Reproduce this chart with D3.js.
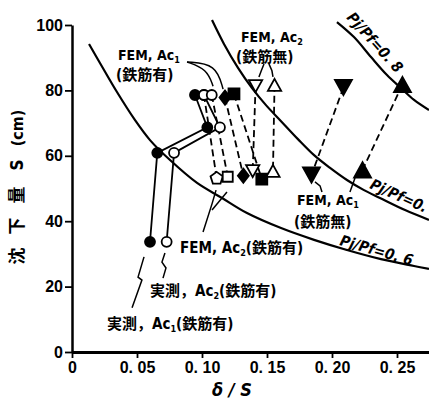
<!DOCTYPE html>
<html>
<head>
<meta charset="utf-8">
<script src="https://cdn.jsdelivr.net/npm/d3@7"></script>
<style>
  html, body { margin: 0; padding: 0; background: #fff; }
  svg { display: block; background: #fff; }
  text { font-weight: bold; fill: #000; }
  .lat { font-family: "Liberation Sans Narrow", "DejaVu Sans Condensed", "Noto Sans CJK JP", sans-serif; }
  .tick text { font-family: "Liberation Sans", "Noto Sans CJK JP", sans-serif; font-weight: bold; }
</style>
</head>
<body>
<svg id="chart" width="429" height="401"></svg>
<script>
// ---------- axis ticks ----------
const xTicks = [0, 0.05, 0.10, 0.15, 0.20, 0.25];
const xTickLabels = ["0", "0. 05", "0. 10", "0. 15", "0. 20", "0. 25"];
const yTicks = [0, 20, 40, 60, 80, 100];
const yTickLabels = ["0", "20", "40", "60", "80", "100"];

// ---------- measured settlement paths [δ/S, S(cm)] ----------
const obsAc1 = [[0.060, 33.7], [0.0656, 60.9], [0.1041, 68.7], [0.0946, 78.6]];   // 実測 Ac1 (鉄筋有)
const obsAc2 = [[0.0728, 33.7], [0.0785, 60.9], [0.1138, 68.7], [0.1015, 78.6]];  // 実測 Ac2 (鉄筋有)

// ---------- FEM results with rebar: upper row (Ac1) and lower row (Ac2) ----------
const femRebarUpper = [[0.1015, 78.6], [0.1075, 78.6], [0.1177, 77.8], [0.1246, 78.9]];
const femRebarLower = [[0.1113, 53.1], [0.1198, 53.6], [0.1318, 53.9], [0.1460, 52.9]];

// ---------- FEM results without rebar ----------
const femAc2NoRebarUpper = [[0.1412, 81.3], [0.1558, 81.7]];
const femAc2NoRebarLower = [[0.1390, 55.3], [0.1546, 55.4]];
const femAc1NoRebarUpper = [[0.2088, 80.9], [0.2542, 81.8]];
const femAc1NoRebarLower = [[0.1842, 54.1], [0.2235, 55.7]];

// ---------- Pj/Pf contour lines ----------
const curve06 = [[0.0131, 94.2], [0.0215, 88.4], [0.0346, 79.5], [0.0485, 70.9], [0.0600, 64.8],
                 [0.0754, 58.7], [0.0962, 51.7], [0.1154, 47.1], [0.1346, 42.5], [0.1608, 37.9],
                 [0.1862, 34.3], [0.2115, 31.2], [0.2377, 28.4], [0.2631, 26.3], [0.2746, 25.4]];
const curve07 = [[0.1077, 101.5], [0.1169, 94.2], [0.1277, 86.9], [0.1385, 80.7], [0.1492, 75.5],
                 [0.1608, 70.6], [0.1738, 65.1], [0.1862, 60.2], [0.1985, 56.3], [0.2115, 52.6],
                 [0.2246, 49.5], [0.2369, 47.1], [0.2562, 43.4], [0.2746, 40.4]];
const curve08 = [[0.2038, 100.9], [0.2169, 96.3], [0.2300, 90.2], [0.2423, 84.7], [0.2531, 80.7],
                 [0.2631, 77.1], [0.2746, 74.0]];

// ---------- marker styles ----------
const upperSymbols = ["circleOpen", "circleOpen", "diamondFilled", "squareFilled"];
const lowerSymbols = ["pentagonOpen", "squareOpen", "diamondFilled", "squareFilled"];
const triSymbols = ["triDown", "triUp"];

// ---------- leader lines in data units ----------
const leaders = [
  [[0.1008, 36.7], [0.1077, 45.3], [0.1108, 49.5]],
  [[0.1077, 43.4], [0.1192, 48.9]],
  [[0.0715, 30.3], [0.0692, 27.5], [0.0723, 25.7], [0.0700, 22.6]],
  [[0.0554, 29.1], [0.0508, 22.9], [0.0538, 22.0], [0.0462, 13.5]],
  [[0.1477, 88.1], [0.1456, 86.0], [0.1438, 84.1]],
  [[0.1515, 88.1], [0.1538, 86.0], [0.1546, 84.1]],
  [[0.1923, 48.9], [0.1908, 50.8], [0.1869, 52.0]],
  [[0.2177, 53.2], [0.2138, 48.9]]
];
const swoosh = [
  [[0.0885, 88.7], [0.1108, 88.1], [0.1162, 80.4]],
  [[0.0885, 88.7], [0.1038, 86.5], [0.1085, 81.3]]
];

const svg = d3.select("#chart");
const x = d3.scaleLinear().domain([0, 0.275]).range([72, 429.5]);
const y = d3.scaleLinear().domain([0, 100]).range([352, 25]);

// ---------- custom symbol shapes (size = half-extent squared) ----------
const shapes = {
  circle: { draw(c, s) { const r = Math.sqrt(s); c.moveTo(r, 0); c.arc(0, 0, r, 0, 2 * Math.PI); } },
  square: { draw(c, s) { const r = Math.sqrt(s); c.rect(-r, -r, 2 * r, 2 * r); } },
  diamond: { draw(c, s) { const r = Math.sqrt(s); c.moveTo(0, -r * 1.3); c.lineTo(r, 0); c.lineTo(0, r * 1.3); c.lineTo(-r, 0); c.closePath(); } },
  pentagon: { draw(c, s) { const r = Math.sqrt(s); for (let i = 0; i < 5; i++) { const a = -Math.PI / 2 + i * 2 * Math.PI / 5; const px = r * Math.cos(a), py = r * Math.sin(a); if (i === 0) c.moveTo(px, py); else c.lineTo(px, py); } c.closePath(); } },
  triUp: { draw(c, s) { const r = Math.sqrt(s); c.moveTo(0, -r * 0.9); c.lineTo(r, r * 0.9); c.lineTo(-r, r * 0.9); c.closePath(); } },
  triDown: { draw(c, s) { const r = Math.sqrt(s); c.moveTo(0, r * 0.9); c.lineTo(r, -r * 0.9); c.lineTo(-r, -r * 0.9); c.closePath(); } }
};
const styleOf = {
  circleOpen:   { shape: "circle",   size: 25,   fill: "#fff" },
  circleFilled: { shape: "circle",   size: 25,   fill: "#000" },
  squareOpen:   { shape: "square",   size: 25,   fill: "#fff" },
  squareFilled: { shape: "square",   size: 30,   fill: "#000" },
  diamondFilled:{ shape: "diamond",  size: 30,   fill: "#000" },
  pentagonOpen: { shape: "pentagon", size: 42,   fill: "#fff" },
  triUpOpen:    { shape: "triUp",    size: 44,   fill: "#fff" },
  triDownOpen:  { shape: "triDown",  size: 44,   fill: "#fff" },
  triUpFilled:  { shape: "triUp",    size: 72,   fill: "#000" },
  triDownFilled:{ shape: "triDown",  size: 72,   fill: "#000" }
};

function drawMarker(g, p, key) {
  const st = styleOf[key];
  g.append("path")
    .attr("d", d3.symbol().type(shapes[st.shape]).size(st.size)())
    .attr("transform", `translate(${x(p[0])},${y(p[1])})`)
    .attr("fill", st.fill)
    .attr("stroke", "#000")
    .attr("stroke-width", 1.8)
    .attr("stroke-linejoin", "miter");
}

const line = d3.line().x(d => x(d[0])).y(d => y(d[1]));
const smooth = d3.line().x(d => x(d[0])).y(d => y(d[1])).curve(d3.curveCatmullRom.alpha(0.5));
const bend = d3.line().x(d => x(d[0])).y(d => y(d[1])).curve(d3.curveBasis);

// ---------- contour lines ----------
const gCurves = svg.append("g").attr("fill", "none").attr("stroke", "#000").attr("stroke-width", 2.2);
[curve06, curve07, curve08].forEach(c => gCurves.append("path").attr("d", smooth(c)));

// ---------- axes ----------
const gx = svg.append("g").attr("transform", "translate(0,352)")
  .call(d3.axisBottom(x).tickValues(xTicks).tickFormat((d, i) => xTickLabels[i]).tickSize(6).tickSizeOuter(0).tickPadding(4));
const gy = svg.append("g").attr("transform", "translate(72,0)")
  .call(d3.axisLeft(y).tickValues(yTicks).tickFormat((d, i) => yTickLabels[i]).tickSize(7).tickSizeOuter(0).tickPadding(2));
gx.select(".domain").attr("stroke-width", 3);
gy.select(".domain").attr("stroke-width", 2.5);
[gx, gy].forEach(g => {
  g.selectAll(".tick line").attr("stroke-width", 1.8);
  g.selectAll(".tick text").style("font-size", "16px").attr("fill", "#000");
});

// ---------- connecting lines ----------
const gLines = svg.append("g").attr("fill", "none").attr("stroke", "#000").attr("stroke-width", 1.8);
gLines.append("path").attr("d", line(obsAc1));
gLines.append("path").attr("d", line(obsAc2));
const dashed = (a, b) => gLines.append("path").attr("d", line([a, b])).attr("stroke-dasharray", "7,4");
femRebarUpper.forEach((p, i) => dashed(p, femRebarLower[i]));
femAc2NoRebarUpper.forEach((p, i) => dashed(p, femAc2NoRebarLower[i]));
femAc1NoRebarUpper.forEach((p, i) => dashed(p, femAc1NoRebarLower[i]));

// ---------- leaders ----------
const gLead = svg.append("g").attr("fill", "none").attr("stroke", "#000").attr("stroke-width", 1.5);
leaders.forEach(l => gLead.append("path").attr("d", line(l)));
swoosh.forEach(l => gLead.append("path").attr("d", bend(l)));

// ---------- markers ----------
const gMarks = svg.append("g");
obsAc1.forEach(p => drawMarker(gMarks, p, "circleFilled"));
obsAc2.forEach(p => drawMarker(gMarks, p, "circleOpen"));
femRebarUpper.forEach((p, i) => drawMarker(gMarks, p, upperSymbols[i]));
femRebarLower.forEach((p, i) => drawMarker(gMarks, p, lowerSymbols[i]));
femAc2NoRebarUpper.forEach((p, i) => drawMarker(gMarks, p, triSymbols[i] + "Open"));
femAc2NoRebarLower.forEach((p, i) => drawMarker(gMarks, p, triSymbols[i] + "Open"));
femAc1NoRebarUpper.forEach((p, i) => drawMarker(gMarks, p, triSymbols[i] + "Filled"));
femAc1NoRebarLower.forEach((p, i) => drawMarker(gMarks, p, triSymbols[i] + "Filled"));

// ---------- text ----------
function addLabel(x0, y0, parts, size) {
  const t = svg.append("text").attr("class", "lat").attr("x", x0).attr("y", y0).style("font-size", size + "px");
  let low = false;
  parts.forEach(p => {
    const s = t.append("tspan").text(p.t);
    if (p.sub) { s.style("font-size", Math.round(size * 0.62) + "px").attr("dy", 3); low = true; }
    else if (low) { s.attr("dy", -3); low = false; }
  });
  return t;
}
addLabel(118, 60, [{ t: "FEM, Ac" }, { t: "1", sub: true }], 14);
addLabel(116, 80, [{ t: "(鉄筋有)" }], 15);
addLabel(241, 42, [{ t: "FEM, Ac" }, { t: "2", sub: true }], 14);
addLabel(236, 62, [{ t: "(鉄筋無)" }], 15);
addLabel(297, 205, [{ t: "FEM, Ac" }, { t: "1", sub: true }], 14);
addLabel(294, 227, [{ t: "(鉄筋無)" }], 15);
addLabel(180, 253, [{ t: "FEM, Ac" }, { t: "2", sub: true }, { t: "(鉄筋有)" }], 15);
addLabel(150, 296, [{ t: "実測，Ac" }, { t: "2", sub: true }, { t: "(鉄筋有)" }], 15);
addLabel(107, 329, [{ t: "実測，Ac" }, { t: "1", sub: true }, { t: "(鉄筋有)" }], 15);

// contour labels
function ratioLabel(x0, y0, angle, str) {
  svg.append("text").attr("class", "lat")
    .attr("transform", `translate(${x0},${y0}) rotate(${angle})`)
    .style("font-size", "15px").style("font-style", "italic")
    .text(str);
}
ratioLabel(346, 18, 48, "Pj/Pf=0. 8");
ratioLabel(369, 188, 24, "Pj/Pf=0. 7");
ratioLabel(339, 245, 16, "Pj/Pf=0. 6");

// axis titles
svg.append("text").attr("class", "lat").attr("x", 232).attr("y", 396).attr("text-anchor", "middle")
  .style("font-size", "18px").style("font-style", "italic").text("δ / S");

const yTitle = [["沈", -256], ["下", -226], ["量", -195], ["S", -165], ["(cm)", -128]];
const gt = svg.append("g").attr("transform", "translate(23,0) rotate(-90)");
yTitle.forEach(([s, pos]) => gt.append("text").attr("class", "lat").attr("x", pos).attr("y", 0)
  .attr("text-anchor", "middle").style("font-size", s.length > 1 ? "16px" : "17px").text(s));
</script>
</body>
</html>
